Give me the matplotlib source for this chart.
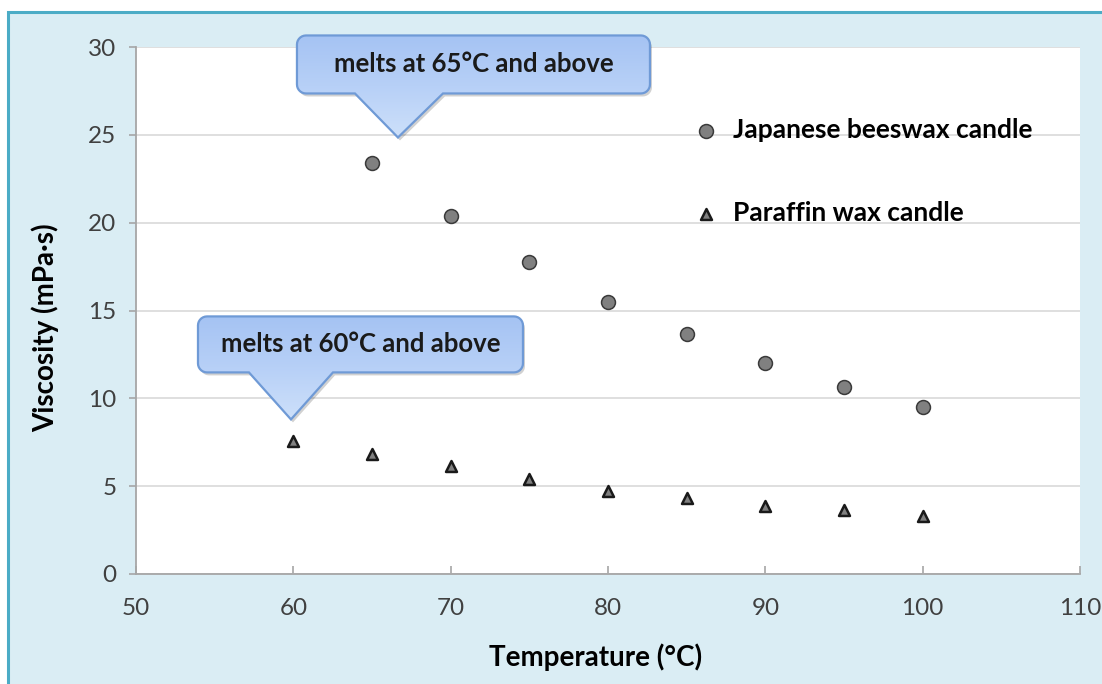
import numpy as np
import matplotlib
matplotlib.use('Agg')
import matplotlib.pyplot as plt
from matplotlib.path import Path
from matplotlib.patches import PathPatch, Rectangle

plt.rcParams['font.family'] = ['Lato', 'DejaVu Sans']

# 데이터
temps_bees = [65, 70, 75, 80, 85, 90, 95, 100]
visc_bees = [23.4, 20.4, 17.75, 15.5, 13.65, 12.0, 10.65, 9.5]
temps_paraffin = [60, 65, 70, 75, 80, 85, 90, 95, 100]
visc_paraffin = [7.57, 6.83, 6.15, 5.4, 4.72, 4.33, 3.87, 3.64, 3.3]
label_bees = 'Japanese beeswax candle'
label_paraffin = 'Paraffin wax candle'
callout_texts = ['melts at 65°C and above', 'melts at 60°C and above']
callout_tips = [(66.65, 24.85), (59.85, 8.8)]   # 말풍선 꼭짓점 (데이터 좌표)

BG = '#daedf4'
FRAME = '#4bacc6'
AXGRAY = '#a6a6a6'
GRID = '#d9d9d9'
W, H = 1102, 684

fig = plt.figure(figsize=(W / 100, H / 100), dpi=100, facecolor='white')
fig.add_artist(Rectangle((8 / W, -0.1), 1.2, (H - 12) / H + 0.1,
                         transform=fig.transFigure, facecolor=BG,
                         edgecolor=FRAME, linewidth=2.2, zorder=-5))

ax = fig.add_axes([136 / W, 110 / H, 944 / W, 527 / H])
ax.set_facecolor('white')
ax.set_xlim(50, 110)
ax.set_ylim(0, 30)
ax.set_xticks(range(50, 111, 10))
ax.set_yticks(range(0, 31, 5))
ax.grid(axis='y', color=GRID, linewidth=1.2)
ax.set_axisbelow(True)
for s in ('top', 'right'):
    ax.spines[s].set_visible(False)
for s in ('left', 'bottom'):
    ax.spines[s].set_color(AXGRAY)
    ax.spines[s].set_linewidth(1.3)
ax.tick_params(axis='y', direction='out', length=5, width=1.2, color=AXGRAY,
               labelsize=17.5, labelcolor='#404040', pad=9)
ax.tick_params(axis='x', direction='in', length=6, width=1.2, color=AXGRAY,
               labelsize=17.5, labelcolor='#404040', pad=17)

ax.scatter(temps_bees, visc_bees, s=100, marker='o', facecolor='#808080',
           edgecolor='#3a3a3a', linewidth=1.1, label=label_bees, zorder=3)
ax.scatter(temps_paraffin, visc_paraffin, s=62, marker='^', facecolor='#808080',
           edgecolor='#1a1a1a', linewidth=1.8, label=label_paraffin, zorder=3)

ax.set_xlabel('Temperature (°C)', fontsize=20, fontweight='bold')
ax.set_ylabel('Viscosity (mPa·s)', fontsize=20, fontweight='bold')
ax.xaxis.set_label_coords(0.487, -0.1575)
ax.xaxis.label.set_va('center')
ax.yaxis.set_label_coords(-0.0964, 0.467)
ax.yaxis.label.set_va('center')

leg = ax.legend(loc='upper left', bbox_to_anchor=(0.5898, 0.865), frameon=False,
                prop={'weight': 'bold', 'size': 19},
                handlelength=1.0, handletextpad=0.52, labelspacing=2.22,
                borderpad=0, borderaxespad=0, scatterpoints=1)

# ── 말풍선 (픽셀 좌표용 오버레이 축) ─────────────────────
ov = fig.add_axes([0, 0, 1, 1], zorder=5)
ov.set_xlim(0, W)
ov.set_ylim(0, H)
ov.axis('off')
ov.patch.set_alpha(0)


def callout_path(x0, x1, y0, y1, r, bx0, bx1, tx, ty):
    verts = []

    def arc(cx, cy, a0, a1):
        for a in np.linspace(a0, a1, 8):
            verts.append((cx + r * np.cos(a), cy + r * np.sin(a)))

    verts.append((x0 + r, y1))
    arc(x1 - r, y1 - r, np.pi / 2, 0)
    arc(x1 - r, y0 + r, 0, -np.pi / 2)
    verts += [(bx1, y0), (tx, ty), (bx0, y0)]
    arc(x0 + r, y0 + r, -np.pi / 2, -np.pi)
    arc(x0 + r, y1 - r, np.pi, np.pi / 2)
    verts.append((x0 + r, y1))
    codes = [Path.MOVETO] + [Path.LINETO] * (len(verts) - 2) + [Path.CLOSEPOLY]
    return Path(verts, codes)


# 꼭짓점 기준 상대 위치 (픽셀): 박스 좌/우/하/상, 꼬리 밑변 좌/우
shapes = [(-101, 252, 44, 102, -43, 45),
          (-93, 232, 47, 103, -42, 42)]
grad = np.linspace(0, 1, 256).reshape(-1, 1)
cmap = matplotlib.colors.LinearSegmentedColormap.from_list(
    'cb', ['#cde0fa', '#b7d0f7', '#a5c3f3'])

for text, tip, sh in zip(callout_texts, callout_tips, shapes):
    tx, ty = ax.transData.transform(tip)
    l, r_, b, t, bl, br = sh
    x0, x1, y0, y1 = tx + l, tx + r_, ty + b, ty + t
    p = callout_path(x0, x1, y0, y1, 9, tx + bl, tx + br, tx, ty)
    # 그림자
    shadow = PathPatch(p.transformed(matplotlib.transforms.Affine2D().translate(2, -3)),
                       facecolor='#000000', alpha=0.18, edgecolor='none')
    ov.add_patch(shadow)
    patch = PathPatch(p, facecolor='none', edgecolor='#6f9ad6', linewidth=1.6)
    ov.add_patch(patch)
    im = ov.imshow(grad, cmap=cmap, aspect='auto', origin='lower',
                   extent=(x0, x1, ty, y1), zorder=1)
    im.set_clip_path(patch)
    patch.set_zorder(2)
    ov.text((x0 + x1) / 2, (y0 + y1) / 2, text, ha='center', va='center',
            fontsize=18.5, fontweight='bold', color='#1a1a1a', zorder=3)
ov.set_xlim(0, W)
ov.set_ylim(0, H)

fig.savefig('out.png', dpi=100, facecolor='white')
